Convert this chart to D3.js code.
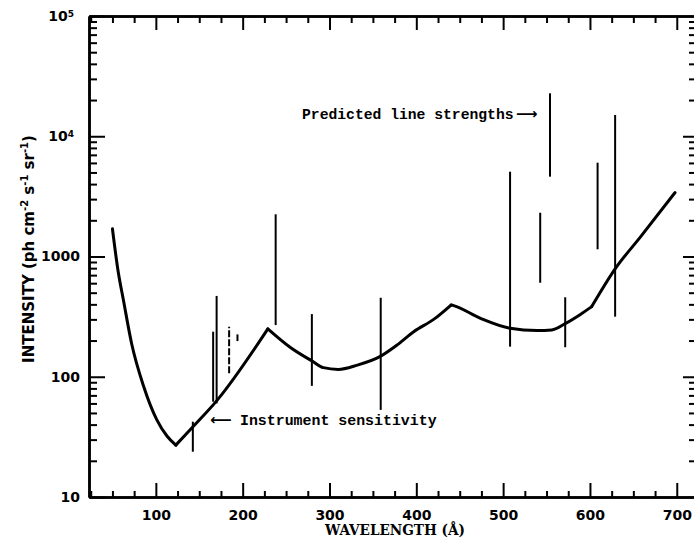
<!DOCTYPE html>
<html>
<head>
<meta charset="utf-8">
<script src="https://cdn.jsdelivr.net/npm/d3@7"></script>
<style>
  body { margin: 0; background: #fff; }
</style>
</head>
<body>
<svg width="694" height="542"></svg>
<script>
/* ===============================
   Data
   =============================== */
// instrument sensitivity curve (wavelength in A, intensity)
let sensWave = [50, 56, 63, 72, 86, 101, 113, 123, 143, 170, 229, 255, 280, 293, 310, 332, 358, 378, 397, 420, 440, 443, 474, 508, 539, 556, 572, 589, 602, 629, 658, 698];
let sensInt  = [1700, 800, 420, 190, 83, 44, 32, 27, 38.5, 63, 250, 175, 135, 119, 115, 125, 147, 184, 237, 300, 395, 390, 306, 253, 242, 245, 278, 330, 383, 790, 1450, 3400];
// wavelengths where the curve has a sharp corner
let sensCorners = [123, 229, 440, 602];

// predicted line strengths (vertical bars)
let lineWave = [142.6, 166, 170, 184.4, 194, 238, 279.7, 359, 508, 542.7, 554, 571.5, 608.8, 629];
let lineLow  = [23.8, 62, 60, 107, 198, 269, 84, 53, 178, 605, 4613, 176, 1148, 316];
let lineHigh = [42.3, 237, 470, 261, 225, 2244, 332, 454, 5070, 2312, 22760, 458, 6026, 15030];

// axis ticks
let xMajor = [100, 200, 300, 400, 500, 600, 700];
let xMinor = d3.range(25, 725, 25).filter(v => v % 100 !== 0);
let yMajor = [10, 100, 1000, 1e4, 1e5];
let yMinor = [];
[10, 100, 1000, 1e4].forEach(base => {
    for (let k = 2; k <= 9; k++) yMinor.push(base * k);
});

/* ===============================
   Scales
   =============================== */
let svg = d3.select("svg");

let x = d3.scaleLinear().domain([23, 721]).range([89, 695]);
let y = d3.scaleLog().domain([10, 1e5]).range([497, 16]);

let tickFont = "'DejaVu Sans', sans-serif";
let noteFont = "'Liberation Mono', 'DejaVu Sans Mono', monospace";

/* ===============================
   Axes (ticks point inward)
   =============================== */
function styleAxis(g) {
    g.selectAll("path.domain").attr("stroke", "#000").attr("stroke-width", 2.5);
    g.selectAll(".tick line").attr("stroke", "#000").attr("stroke-width", 2);
}

// bottom
svg.append("g")
    .attr("transform", "translate(0,497)")
    .call(d3.axisBottom(x).tickValues(xMinor).tickSize(-6).tickSizeOuter(0).tickFormat(""))
    .call(styleAxis);

svg.append("g")
    .attr("transform", "translate(0,497)")
    .call(d3.axisBottom(x).tickValues(xMajor).tickSize(-14).tickSizeOuter(0).tickPadding(13).tickFormat(d3.format("d")))
    .call(styleAxis)
    .call(g => g.selectAll("text")
        .attr("font-family", tickFont)
        .attr("font-weight", "bold")
        .attr("font-size", 14)
        .attr("fill", "#000"));

// top
svg.append("g")
    .attr("transform", "translate(0,16)")
    .call(d3.axisTop(x).tickValues(xMinor).tickSize(-7).tickSizeOuter(0).tickFormat(""))
    .call(styleAxis);

svg.append("g")
    .attr("transform", "translate(0,16)")
    .call(d3.axisTop(x).tickValues(xMajor).tickSize(-14).tickSizeOuter(0).tickFormat(""))
    .call(styleAxis);

// left
svg.append("g")
    .attr("transform", "translate(89,0)")
    .call(d3.axisLeft(y).tickValues(yMinor).tickSize(-8).tickSizeOuter(0).tickFormat(""))
    .call(styleAxis);

svg.append("g")
    .attr("transform", "translate(89,0)")
    .call(d3.axisLeft(y).tickValues(yMajor).tickSize(-16).tickSizeOuter(0).tickPadding(9).tickFormat(d => d >= 1e4 ? "10" : String(d)))
    .call(styleAxis)
    .call(g => g.selectAll("text")
        .attr("font-family", tickFont)
        .attr("font-weight", "bold")
        .attr("font-size", 14)
        .attr("fill", "#000")
        .each(function(d) {
            if (d >= 1e4) {
                d3.select(this).attr("x", -15);
                d3.select(this).append("tspan")
                    .attr("dy", "-0.45em")
                    .attr("font-size", 9)
                    .text(Math.round(Math.log10(d)));
            }
        }));

// right (no visible spine, only ticks)
svg.append("g")
    .attr("transform", "translate(694,0)")
    .call(d3.axisRight(y).tickValues(yMinor).tickSize(-5).tickSizeOuter(0).tickFormat(""))
    .call(styleAxis)
    .call(g => g.select("path.domain").remove());

svg.append("g")
    .attr("transform", "translate(694,0)")
    .call(d3.axisRight(y).tickValues(yMajor.slice(1, 4)).tickSize(-11).tickSizeOuter(0).tickFormat(""))
    .call(styleAxis)
    .call(g => g.select("path.domain").remove());

/* ===============================
   Predicted line strengths
   =============================== */
let lines = lineWave.map((w, i) => ({ wave: w, low: lineLow[i], high: lineHigh[i] }));

svg.append("g")
    .selectAll("line")
    .data(lines)
    .join("line")
    .attr("x1", d => x(d.wave))
    .attr("x2", d => x(d.wave))
    .attr("y1", d => y(d.low))
    .attr("y2", d => y(d.high))
    .attr("stroke", "#000")
    .attr("stroke-width", 2)
    .attr("stroke-dasharray", d => d.wave === 184.4 ? "7,2" : null);

/* ===============================
   Instrument sensitivity curve
   (smooth pieces joined at sharp corners)
   =============================== */
let sens = sensWave.map((w, i) => [w, sensInt[i]]);
let cuts = [sensWave[0], ...sensCorners, sensWave[sensWave.length - 1]];
let sensLine = d3.line()
    .x(d => x(d[0]))
    .y(d => y(d[1]))
    .curve(d3.curveMonotoneX);

for (let i = 0; i < cuts.length - 1; i++) {
    let piece = sens.filter(d => d[0] >= cuts[i] && d[0] <= cuts[i + 1]);
    svg.append("path")
        .datum(piece)
        .attr("d", sensLine)
        .attr("fill", "none")
        .attr("stroke", "#000")
        .attr("stroke-width", 3)
        .attr("stroke-linecap", "round")
        .attr("stroke-linejoin", "round");
}

/* ===============================
   Annotations
   =============================== */
let predicted = svg.append("text")
    .attr("x", 302)
    .attr("y", 119)
    .attr("font-family", noteFont)
    .attr("font-weight", "bold")
    .attr("font-size", 14.7);

predicted.append("tspan").text("Predicted line strengths");
predicted.append("tspan")
    .attr("x", 516)
    .attr("font-family", tickFont)
    .attr("font-weight", "bold")
    .attr("font-size", 15)
    .text("\u27f6");

let sensNote = svg.append("text")
    .attr("x", 210)
    .attr("y", 425)
    .attr("font-family", tickFont)
    .attr("font-weight", "bold")
    .attr("font-size", 15);

sensNote.append("tspan").text("\u27f5");
sensNote.append("tspan")
    .attr("x", 240)
    .attr("font-family", noteFont)
    .attr("font-weight", "bold")
    .attr("font-size", 14.9)
    .text("Instrument sensitivity");

/* ===============================
   Axis titles
   =============================== */
svg.append("text")
    .attr("x", 325)
    .attr("y", 535)
    .attr("font-family", "'DejaVu Serif', serif")
    .attr("font-weight", "bold")
    .attr("font-size", 14)
    .attr("textLength", 140)
    .attr("lengthAdjust", "spacingAndGlyphs")
    .text("WAVELENGTH (\u00c5)");

let yTitle = svg.append("text")
    .attr("transform", "translate(34,249) rotate(-90)")
    .attr("text-anchor", "middle")
    .attr("font-family", tickFont)
    .attr("font-weight", "bold")
    .attr("font-size", 15);

yTitle.append("tspan").text("INTENSITY (ph cm");
yTitle.append("tspan").attr("dy", -6).attr("font-size", 10).text("-2");
yTitle.append("tspan").attr("dy", 6).text(" s");
yTitle.append("tspan").attr("dy", -6).attr("font-size", 10).text("-1");
yTitle.append("tspan").attr("dy", 6).text(" sr");
yTitle.append("tspan").attr("dy", -6).attr("font-size", 10).text("-1");
yTitle.append("tspan").attr("dy", 6).text(")");
</script>
</body>
</html>
